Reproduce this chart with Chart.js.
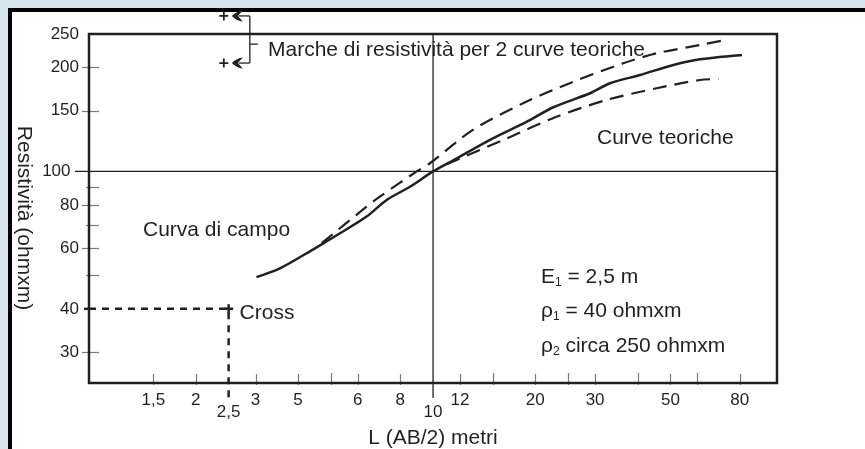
<!DOCTYPE html>
<html>
<head>
<meta charset="utf-8">
<script src="https://cdn.jsdelivr.net/npm/chart.js"></script>
<style>
  html, body { margin: 0; padding: 0; background: #d5e5eb; }
  canvas { display: block; }
</style>
</head>
<body>
<canvas id="myChart" width="865" height="449"></canvas>
<script>
// curva di campo (misurata)
var fieldX = [3.02, 3.54, 4.44, 5.32, 6.37, 7.30, 8.55, 10, 11.5, 15.0, 18.9, 22.6, 29.0, 33.2, 40.7, 51.0, 61.1, 81.2];
var fieldY = [49.4, 52.4, 59.5, 66.2, 74.0, 82.7, 90.3, 100, 107.9, 124.7, 139.3, 153.4, 168.4, 180.0, 190.2, 203.3, 211.2, 217.3];

// le 2 curve teoriche
var upperX = [4.70, 6.37, 6.97, 8.95, 9.79, 13.1, 18.4, 25.9, 36.3, 45.5, 61.1, 70.8];
var upperY = [62.0, 79.1, 84.5, 100, 105.6, 131.9, 157.5, 181.9, 205.6, 219.8, 232.3, 239.1];
var lowerX = [10.97, 16.5, 23.1, 32.4, 45.5, 61.1, 69.2];
var lowerY = [104.9, 124.7, 144.0, 161.0, 174.1, 184.0, 185.2];

// punto "Cross" e marche di resistivita
var crossX = [2.5];
var crossY = [40];
var marksX = [2.42, 2.42];
var marksY = [282, 206];

// assi
var xMin = 0.97, xMax = 103;
var yMin = 24.4, yMax = 250;
var xTickValues = [1.5, 2, 2.5, 3, 4, 5, 6, 8, 10, 12, 15, 20, 25, 30, 40, 50, 60, 80];
var xTickLabels = ["1,5", "2", ["", "2,5"], "3", "5", "", "6", "8", ["", "10"], "12", "", "20", "", "30", "", "50", "", "80"];
var yTickValues = [30, 40, 50, 60, 70, 80, 90, 100, 150, 200, 250];
var yTickLabels = ["30", "40", "", "60", "", "80", "", "100\u2002", "150", "200", "250"];

var ink = "#231f20";
var fontFamily = '"Liberation Sans", Arial, Helvetica, sans-serif';
Chart.defaults.font.family = fontFamily;

function toPoints(xs, ys) {
  return xs.map(function(x, i) { return {x: x, y: ys[i]}; });
}

var decorations = {
  id: "decorations",
  beforeDraw: function(chart) {
    var c = chart.ctx;
    c.save();
    c.fillStyle = "#d5e5eb";
    c.fillRect(0, 0, chart.width, chart.height);
    c.fillStyle = "#ffffff";
    c.fillRect(8, 8, chart.width - 8, chart.height - 8);
    c.fillStyle = "#000000";
    c.fillRect(8, 8, chart.width - 8, 4);
    c.fillRect(8, 8, 4, chart.height - 8);
    c.restore();
  },
  beforeDatasetsDraw: function(chart) {
    var c = chart.ctx, a = chart.chartArea;
    var xs = chart.scales.x, ys = chart.scales.y;
    c.save();
    // tacche grigie
    c.strokeStyle = "#7a7a7a";
    c.lineWidth = 1.2;
    xTickValues.forEach(function(v, i) {
      if (v === 10 || v === 2.5) return;
      var px = Math.round(xs.getPixelForValue(v)) + 0.5;
      c.beginPath();
      c.moveTo(px, a.bottom - (xTickLabels[i] ? 9 : 10));
      c.lineTo(px, a.bottom + 2);
      c.stroke();
    });
    yTickValues.forEach(function(v, i) {
      if (v === 100 || v === 40 || v === 250) return;
      var py = Math.round(ys.getPixelForValue(v)) + 0.5;
      c.beginPath();
      c.moveTo(a.left - (yTickLabels[i] ? 7 : 3), py);
      c.lineTo(a.left + 10, py);
      c.stroke();
    });
    // linee a 10 m e 100 ohmxm
    var x10 = xs.getPixelForValue(10), y100 = ys.getPixelForValue(100);
    c.strokeStyle = ink;
    c.lineWidth = 1.3;
    c.beginPath();
    c.moveTo(x10, a.top);
    c.lineTo(x10, a.bottom + 15);
    c.moveTo(a.left - 14, y100);
    c.lineTo(a.right, y100);
    c.stroke();
    // tacca a 40
    var y40 = ys.getPixelForValue(40);
    c.lineWidth = 2.5;
    c.beginPath();
    c.moveTo(a.left - 5, y40);
    c.lineTo(a.left, y40);
    c.stroke();
    // riquadro
    c.lineWidth = 2.5;
    c.strokeRect(a.left, a.top, a.right - a.left, a.bottom - a.top);
    c.restore();
  },
  afterDraw: function(chart) {
    var c = chart.ctx, a = chart.chartArea;
    c.save();
    c.fillStyle = ink;
    c.strokeStyle = ink;

    // titolo asse y (ruotato in senso orario)
    c.save();
    c.translate(24, 218);
    c.rotate(Math.PI / 2);
    c.font = "21px " + fontFamily;
    c.textAlign = "center";
    c.textBaseline = "middle";
    c.fillText("Resistività (ohmxm)", 0, 0);
    c.restore();

    c.font = "21px " + fontFamily;
    c.textAlign = "left";
    c.textBaseline = "alphabetic";
    c.fillText("Marche di resistività per 2 curve teoriche", 268, 56);
    c.fillText("Curve teoriche", 597, 144);
    c.fillText("Curva di campo", 143, 236);

    var cp = chart.getDatasetMeta(4).data[0];
    c.fillText("Cross", cp.x + 11, 319);

    // testo con pedici
    function subText(parts, x, y) {
      parts.forEach(function(p) {
        if (p.sub) {
          c.font = "12px " + fontFamily;
          c.fillText(p.t, x, y + 3);
        } else {
          c.font = "21px " + fontFamily;
          c.fillText(p.t, x, y);
        }
        x += c.measureText(p.t).width;
      });
    }
    subText([{t: "E"}, {t: "1", sub: true}, {t: " = 2,5 m"}], 541, 283);
    subText([{t: "ρ"}, {t: "1", sub: true}, {t: " = 40 ohmxm"}], 541, 317);
    subText([{t: "ρ"}, {t: "2", sub: true}, {t: " circa 250 ohmxm"}], 541, 352);

    // marche: i punti fuori dall'area del grafico vanno disegnati a parte
    var mk = chart.getDatasetMeta(5).data;
    var whole = {left: 0, top: 0, right: chart.width, bottom: chart.height};
    mk.forEach(function(p) {
      if (p.y < a.top) p.draw(c, whole);
    });

    // frecce e parentesi delle marche
    var bx = mk[0].x + 26;
    c.fillStyle = ink;
    c.strokeStyle = ink;
    c.lineWidth = 1.3;
    mk.forEach(function(p) {
      c.beginPath();
      c.moveTo(p.x + 8, p.y);
      c.quadraticCurveTo(p.x + 13, p.y - 5, p.x + 19, p.y - 5.5);
      c.lineTo(p.x + 14, p.y);
      c.lineTo(p.x + 19, p.y + 5.5);
      c.quadraticCurveTo(p.x + 13, p.y + 5, p.x + 8, p.y);
      c.closePath();
      c.fill();
      c.beginPath();
      c.moveTo(p.x + 15, p.y);
      c.lineTo(bx, p.y);
      c.stroke();
    });
    var ty = mk[0].y + 0.6 * (mk[1].y - mk[0].y);
    c.beginPath();
    c.moveTo(bx, mk[0].y);
    c.lineTo(bx, mk[1].y);
    c.moveTo(bx, ty);
    c.lineTo(bx + 8, ty);
    c.stroke();
    c.restore();
  }
};

new Chart("myChart", {
  type: "line",
  data: {
    datasets: [{
      label: "Curva di campo",
      data: toPoints(fieldX, fieldY),
      borderColor: ink,
      borderWidth: 2.5,
      pointRadius: 0,
      tension: 0.3
    }, {
      label: "Curva teorica superiore",
      data: toPoints(upperX, upperY),
      borderColor: ink,
      borderWidth: 2.2,
      borderDash: [14, 8],
      pointRadius: 0,
      tension: 0.3
    }, {
      label: "Curva teorica inferiore",
      data: toPoints(lowerX, lowerY),
      borderColor: ink,
      borderWidth: 2.2,
      borderDash: [14, 8],
      pointRadius: 0,
      tension: 0.3
    }, {
      label: "Cross guida",
      data: [{x: xMin, y: crossY[0]}, {x: crossX[0], y: crossY[0]}, {x: crossX[0], y: 21.8}],
      borderColor: ink,
      borderWidth: 2.5,
      borderDash: [7, 6],
      pointRadius: 0,
      tension: 0,
      clip: false
    }, {
      label: "Cross",
      data: toPoints(crossX, crossY),
      showLine: false,
      pointStyle: "cross",
      pointRadius: 4.5,
      pointBorderWidth: 2.5,
      pointBorderColor: ink,
      clip: false
    }, {
      label: "Marche",
      data: toPoints(marksX, marksY),
      showLine: false,
      pointStyle: "cross",
      pointRadius: 4.5,
      pointBorderWidth: 1.8,
      pointBorderColor: ink,
      clip: false
    }]
  },
  options: {
    responsive: false,
    animation: false,
    events: [],
    layout: {padding: {left: 0, right: 88, top: 34, bottom: 0}},
    plugins: {
      legend: {display: false},
      tooltip: {enabled: false}
    },
    scales: {
      x: {
        type: "logarithmic",
        position: "bottom",
        min: xMin,
        max: xMax,
        bounds: "data",
        grid: {display: false, drawTicks: false},
        border: {display: false},
        afterBuildTicks: function(s) {
          s.ticks = xTickValues.map(function(v) { return {value: v}; });
        },
        afterFit: function(s) { s.height = 66; },
        ticks: {
          autoSkip: false,
          maxRotation: 0,
          padding: 11,
          color: ink,
          font: {size: 17, lineHeight: 0.72},
          callback: function(v, i) { return xTickLabels[i]; }
        },
        title: {
          display: true,
          text: "L (AB/2) metri",
          color: ink,
          font: {size: 21, lineHeight: 1},
          padding: 0
        }
      },
      y: {
        type: "logarithmic",
        min: yMin,
        max: yMax,
        bounds: "data",
        grid: {display: false, drawTicks: false},
        border: {display: false},
        afterBuildTicks: function(s) {
          s.ticks = yTickValues.map(function(v) { return {value: v}; });
        },
        afterFit: function(s) { s.width = 89; },
        ticks: {
          autoSkip: false,
          padding: 10,
          color: ink,
          font: {size: 17},
          callback: function(v, i) { return yTickLabels[i]; }
        }
      }
    }
  },
  plugins: [decorations]
});
</script>
</body>
</html>
